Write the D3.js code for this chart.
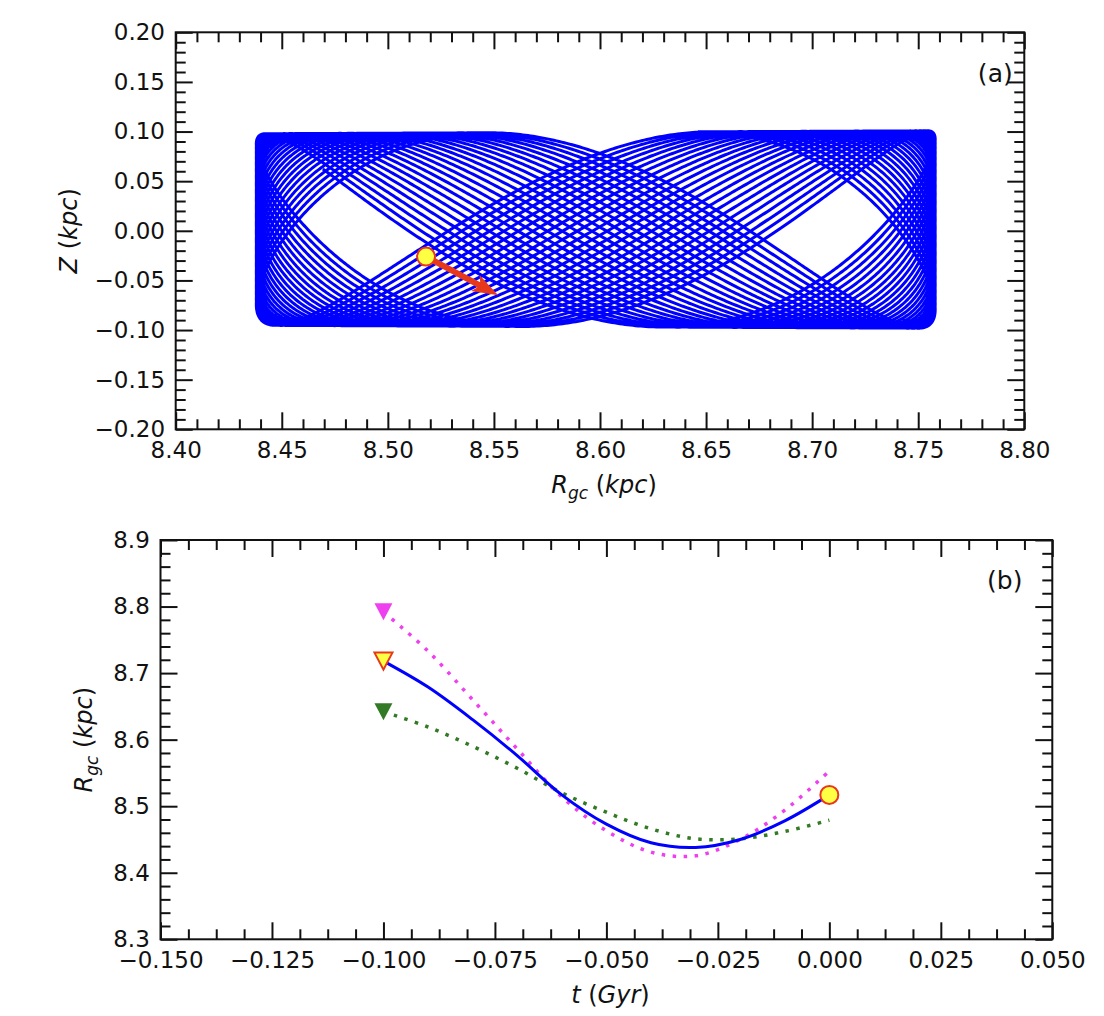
<!DOCTYPE html>
<html>
<head>
<meta charset="utf-8">
<script src="https://cdn.jsdelivr.net/npm/d3@7"></script>
<style>
body { margin: 0; background: #fff; }
text { font-family: "DejaVu Sans", sans-serif; fill: #111; }
</style>
</head>
<body>
<div class="canvas"></div>
<script>
// ---------- data ----------
// panel (a): orbit in the R-Z plane. The orbit is far too dense to read point by point,
// so it is described by what can be read: turning radii, heights, frequency ratio and
// the slow drift of the vertical phase that leaves the two holes and the waist.
const orbitR = [8.438, 8.758];       // radial turning points (kpc)
const orbitZmax = [0.0965, 0.0995];  // vertical amplitude at inner / outer turning point
const orbitZmid = 0.0013;            // mid-plane of the box (kpc)
const orbitFreqRatio = 2;            // vertical / radial frequency
const orbitPhase = [145, 22];        // vertical phase at start / end (deg)
const orbitDrift = 5;                // phase drift per radial period (deg)
const starNow = [8.518, -0.026];     // present position (R, Z)
const starArrow = [8.552, -0.065];   // tip of the velocity arrow

const aXTicks = [8.40, 8.45, 8.50, 8.55, 8.60, 8.65, 8.70, 8.75, 8.80];
const aYTicks = [-0.20, -0.15, -0.10, -0.05, 0.00, 0.05, 0.10, 0.15, 0.20];

// panel (b): R_gc against time
const tGyr   = [-0.100, -0.090, -0.080, -0.070, -0.060, -0.050, -0.040, -0.030, -0.020, -0.010, 0.000];
const rMain  = [8.718, 8.679, 8.630, 8.576, 8.517, 8.473, 8.445, 8.438, 8.450, 8.478, 8.517];
const rUpper = [8.792, 8.733, 8.660, 8.586, 8.514, 8.463, 8.431, 8.4255, 8.450, 8.494, 8.553];
const rLower = [8.642, 8.619, 8.590, 8.557, 8.520, 8.491, 8.466, 8.451, 8.451, 8.462, 8.479];

const bXTicks = [-0.150, -0.125, -0.100, -0.075, -0.050, -0.025, 0.000, 0.025, 0.050];
const bYTicks = [8.3, 8.4, 8.5, 8.6, 8.7, 8.8, 8.9];

// ---------- layout ----------
const W = 1104, H = 1016;
const panelA = { left: 175.7, top: 32.3, width: 848.6, height: 397 };
const panelB = { left: 160.5, top: 540, width: 891.8, height: 399.3 };
const blue = '#0000ff', red = '#e8381c', yellow = '#ffff44', magenta = '#ee40ee', green = '#327a23';

const svg = d3.select('.canvas')
    .append('svg')
        .attr('width', W)
        .attr('height', H);

// minor ticks between the majors
const minors = (majors, n) => {
    const out = [];
    for (let i = 0; i < majors.length - 1; i++) {
        const step = (majors[i + 1] - majors[i]) / n;
        for (let k = 1; k < n; k++) out.push(majors[i] + k * step);
    }
    return out;
};

// frame with inward ticks on all four sides
const drawFrame = (g, x, y, p, xTicks, yTicks, xMin, yMin, xFmt, yFmt) => {
    const major = 17, minor = 10;
    const put = (axis, tx, ty) => {
        const a = g.append('g').attr('transform', `translate(${tx},${ty})`).call(axis);
        a.select('.domain').remove();
        a.selectAll('line').attr('stroke', '#111').attr('stroke-width', 2);
        a.selectAll('text').style('font-size', '23px');
        return a;
    };
    put(d3.axisBottom(x).tickValues(xTicks).tickFormat(xFmt).tickSizeInner(-major).tickSizeOuter(0).tickPadding(12.5), 0, p.height);
    put(d3.axisBottom(x).tickValues(xMin).tickFormat('').tickSizeInner(-minor).tickSizeOuter(0), 0, p.height);
    put(d3.axisTop(x).tickValues(xTicks).tickFormat('').tickSizeInner(-major).tickSizeOuter(0), 0, 0);
    put(d3.axisTop(x).tickValues(xMin).tickFormat('').tickSizeInner(-minor).tickSizeOuter(0), 0, 0);
    put(d3.axisLeft(y).tickValues(yTicks).tickFormat(yFmt).tickSizeInner(-major).tickSizeOuter(0).tickPadding(10.7), 0, 0);
    put(d3.axisLeft(y).tickValues(yMin).tickFormat('').tickSizeInner(-minor).tickSizeOuter(0), 0, 0);
    put(d3.axisRight(y).tickValues(yTicks).tickFormat('').tickSizeInner(-major).tickSizeOuter(0), p.width, 0);
    put(d3.axisRight(y).tickValues(yMin).tickFormat('').tickSizeInner(-minor).tickSizeOuter(0), p.width, 0);
    g.append('rect')
        .attr('width', p.width)
        .attr('height', p.height)
        .attr('fill', 'none')
        .attr('stroke', '#111')
        .attr('stroke-width', 2);
};

// italic math-style label:  R_gc (kpc)
const mathLabel = (parent, parts, attrs) => {
    const t = parent.append('text').style('font-size', '24px');
    Object.entries(attrs).forEach(([k, v]) => t.attr(k, v));
    parts.forEach(([s, kind]) => {
        const sp = t.append('tspan').text(s);
        if (kind === 'i' || kind === 'sub') sp.style('font-style', 'italic');
        if (kind === 'sub') sp.style('font-size', '17px').attr('dy', 6);
        if (kind === 'up') sp.attr('dy', -6);
    });
    return t;
};

const downTriangle = (cx, cy, w, h) => `M${cx - w / 2},${cy - h / 2}L${cx + w / 2},${cy - h / 2}L${cx},${cy + h / 2}Z`;

// ---------- panel (a) ----------
const gA = svg.append('g').attr('transform', `translate(${panelA.left},${panelA.top})`);
const xA = d3.scaleLinear().domain([8.40, 8.80]).range([0, panelA.width]);
const yA = d3.scaleLinear().domain([-0.20, 0.20]).range([panelA.height, 0]);

const rc = (orbitR[0] + orbitR[1]) / 2, ra = (orbitR[1] - orbitR[0]) / 2;
const psi0 = orbitPhase[0] * Math.PI / 180, psi1 = orbitPhase[1] * Math.PI / 180;
const nPeriods = Math.abs(orbitPhase[0] - orbitPhase[1]) / orbitDrift;
const s0 = (2 * Math.PI - psi0) / orbitFreqRatio;   // start at the top of the box
const sLen = 2 * Math.PI * nPeriods;
const nSamp = 20000;
const orbit = d3.range(0, nSamp + 1).map(i => {
    const f = i / nSamp;
    const s = s0 + f * sLen;
    const u = -Math.cos(s);
    const psi = psi0 + (psi1 - psi0) * f;
    const amp = orbitZmax[0] + (orbitZmax[1] - orbitZmax[0]) * (u + 1) / 2;
    return [rc + ra * u, orbitZmid + amp * Math.cos(orbitFreqRatio * s + psi)];
});

gA.append('path')
    .datum(orbit)
    .attr('fill', 'none')
    .attr('stroke', blue)
    .attr('stroke-width', 3)
    .attr('stroke-linejoin', 'round')
    .attr('d', d3.line().x(d => xA(d[0])).y(d => yA(d[1])));

// velocity arrow (quiver style)
{
    const x0 = xA(starNow[0]), y0 = yA(starNow[1]);
    const x1 = xA(starArrow[0]), y1 = yA(starArrow[1]);
    const len = Math.hypot(x1 - x0, y1 - y0);
    const ux = (x1 - x0) / len, uy = (y1 - y0) / len;
    const nx = -uy, ny = ux;
    const sw = 3, hw = 9, hl = 26, ha = 22;
    const bx = x1 - ux * hl, by = y1 - uy * hl;
    const ax = x1 - ux * ha, ay = y1 - uy * ha;
    const pts = [
        [x0 + nx * sw, y0 + ny * sw], [ax + nx * sw, ay + ny * sw], [bx + nx * hw, by + ny * hw],
        [x1, y1],
        [bx - nx * hw, by - ny * hw], [ax - nx * sw, ay - ny * sw], [x0 - nx * sw, y0 - ny * sw]
    ];
    gA.append('path')
        .attr('d', 'M' + pts.map(p => p.join(',')).join('L') + 'Z')
        .attr('fill', red);
}

gA.append('circle')
    .attr('cx', xA(starNow[0]))
    .attr('cy', yA(starNow[1]))
    .attr('r', 9)
    .attr('fill', yellow)
    .attr('stroke', red)
    .attr('stroke-width', 2);

drawFrame(gA, xA, yA, panelA, aXTicks, aYTicks, minors(aXTicks, 5), minors(aYTicks, 5),
    d3.format('.2f'), d3.format('.2f'));

gA.append('text').attr('x', 837).attr('y', 50).attr('text-anchor', 'end').style('font-size', '25px').text('(a)');

mathLabel(gA, [['R', 'i'], ['gc', 'sub'], [' (', 'up'], ['kpc', 'i'], [')', 'n']],
    { x: panelA.width / 2 + 4, y: 461, 'text-anchor': 'middle' });

gA.append('g').attr('transform', `translate(${76.7 - panelA.left},${panelA.height / 2}) rotate(-90)`)
    .call(g => mathLabel(g, [['Z', 'i'], [' (', 'n'], ['kpc', 'i'], [')', 'n']], { x: 0, y: 0, 'text-anchor': 'middle' }));

// ---------- panel (b) ----------
const gB = svg.append('g').attr('transform', `translate(${panelB.left},${panelB.top})`);
const xB = d3.scaleLinear().domain([-0.150, 0.050]).range([0, panelB.width]);
const yB = d3.scaleLinear().domain([8.3, 8.9]).range([panelB.height, 0]);

const lineB = vals => d3.line()
    .x((d, i) => xB(tGyr[i]))
    .y(d => yB(d))
    .curve(d3.curveCatmullRom.alpha(0.5))(vals);

gB.append('path').attr('d', lineB(rLower)).attr('fill', 'none').attr('stroke', green)
    .attr('stroke-width', 3.5).attr('stroke-dasharray', '3.5,7.5');
gB.append('path').attr('d', lineB(rUpper)).attr('fill', 'none').attr('stroke', magenta)
    .attr('stroke-width', 3.5).attr('stroke-dasharray', '3.5,7.5');
gB.append('path').attr('d', lineB(rMain)).attr('fill', 'none').attr('stroke', blue)
    .attr('stroke-width', 3);

const tStart = tGyr[0], tNow = tGyr[tGyr.length - 1];
gB.append('path').attr('d', downTriangle(xB(tStart), yB(rUpper[0]), 18, 17)).attr('fill', magenta);
gB.append('path').attr('d', downTriangle(xB(tStart), yB(rLower[0]), 18, 17)).attr('fill', green);
gB.append('path').attr('d', downTriangle(xB(tStart), yB(rMain[0]), 18, 17))
    .attr('fill', yellow).attr('stroke', red).attr('stroke-width', 2).attr('stroke-linejoin', 'miter');
gB.append('circle')
    .attr('cx', xB(tNow))
    .attr('cy', yB(rMain[rMain.length - 1]))
    .attr('r', 9)
    .attr('fill', yellow)
    .attr('stroke', red)
    .attr('stroke-width', 2);

drawFrame(gB, xB, yB, panelB, bXTicks, bYTicks, minors(bXTicks, 4), minors(bYTicks, 5),
    d3.format('.3f'), d3.format('.1f'));

gB.append('text').attr('x', 862).attr('y', 49).attr('text-anchor', 'end').style('font-size', '25px').text('(b)');

mathLabel(gB, [['t', 'i'], [' (', 'n'], ['Gyr', 'i'], [')', 'n']],
    { x: panelB.width / 2 + 4, y: 463, 'text-anchor': 'middle' });

gB.append('g').attr('transform', `translate(${92 - panelB.left},${panelB.height / 2}) rotate(-90)`)
    .call(g => mathLabel(g, [['R', 'i'], ['gc', 'sub'], [' (', 'up'], ['kpc', 'i'], [')', 'n']], { x: 0, y: 0, 'text-anchor': 'middle' }));
</script>
</body>
</html>
